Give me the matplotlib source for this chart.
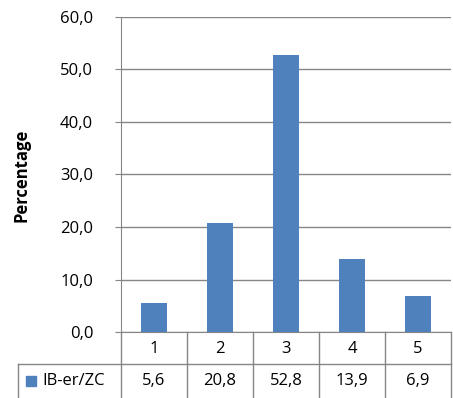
import matplotlib
matplotlib.use("Agg")
from matplotlib import pyplot as plt
from matplotlib.patches import Rectangle

categories = ["1", "2", "3", "4", "5"]
values = [5.6, 20.8, 52.8, 13.9, 6.9]
labels = ["5,6", "20,8", "52,8", "13,9", "6,9"]
yticks = [0, 10, 20, 30, 40, 50, 60]
series_name = "IB-er/ZC"

bar_color = "#4F81BD"
line_color = "#868686"
fs = 12

plt.rcParams['font.family'] = ['Open Sans', 'DejaVu Sans']

W, H = 453, 398
fig = plt.figure(figsize=(W / 100, H / 100), dpi=100)
ax = fig.add_axes([121 / W, (H - 332) / H, 330 / W, 315 / H])

x = list(range(len(categories)))
ax.bar(x, values, width=0.4, color=bar_color, zorder=3)
ax.set_xlim(-0.5, len(categories) - 0.5)
ax.set_ylim(0, 60)
ax.set_yticks(yticks)
ax.set_yticklabels([f"{v:.1f}".replace(".", ",") for v in yticks], fontsize=fs)
ax.set_xticks([])
ax.grid(axis='y', color=line_color, linewidth=1, zorder=0)
for s in ['top', 'right']:
    ax.spines[s].set_visible(False)
for s in ['left', 'bottom']:
    ax.spines[s].set_color(line_color)
ax.tick_params(axis='y', length=4, color=line_color, pad=16)

def fx(px):
    return px / W

def fy(py):
    return 1 - py / H

fig.text(fx(22), fy(175), "Percentage", rotation=90, ha='center', va='center',
         fontsize=12, fontweight='bold')

# data table below the plot
col_edges = [121, 187, 253, 319, 385, 451]
row1_top, row1_bot, row2_bot = 332, 364, 398
lw = 1
for xe in col_edges:
    fig.add_artist(plt.Line2D([fx(xe), fx(xe)], [fy(row1_top), fy(row2_bot)], color=line_color, lw=lw))
fig.add_artist(plt.Line2D([fx(18), fx(18)], [fy(row1_bot), fy(row2_bot)], color=line_color, lw=lw))
fig.add_artist(plt.Line2D([fx(18), fx(451)], [fy(row1_bot), fy(row1_bot)], color=line_color, lw=lw))

for i, (c, lab) in enumerate(zip(categories, labels)):
    cx = (col_edges[i] + col_edges[i + 1]) / 2
    fig.text(fx(cx), fy((row1_top + row1_bot) / 2 + 1), c, ha='center', va='center', fontsize=fs)
    fig.text(fx(cx), fy((row1_bot + row2_bot) / 2), lab, ha='center', va='center', fontsize=fs)

fig.add_artist(Rectangle((fx(26), fy(386)), 10 / W, 10 / H, color=bar_color, transform=fig.transFigure))
fig.text(fx(42), fy((row1_bot + row2_bot) / 2), series_name, ha='left', va='center', fontsize=fs)

fig.savefig("out.png", dpi=100)
